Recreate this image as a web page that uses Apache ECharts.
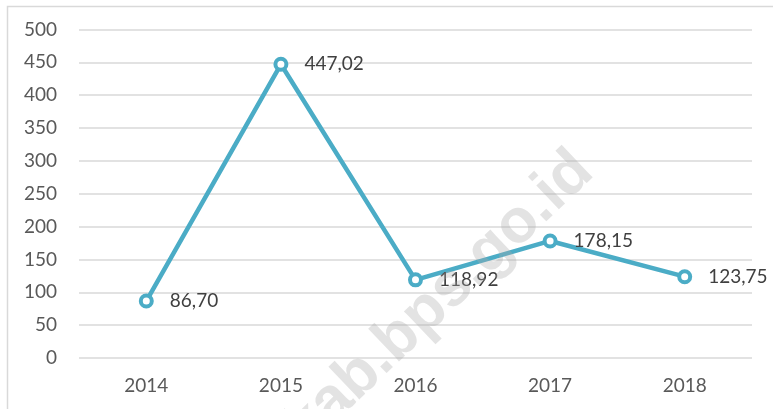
<!DOCTYPE html>
<html>
<head>
<meta charset="utf-8">
<script src="https://cdn.jsdelivr.net/npm/echarts@6/dist/echarts.min.js"></script>
<style>
  html, body { margin: 0; padding: 0; background: #fff; }
  #container { width: 773px; height: 409px; }
</style>
</head>
<body>
<div id="container"></div>
<script>
    var years = ['2014', '2015', '2016', '2017', '2018'];
    var values = [86.70, 447.02, 118.92, 178.15, 123.75];
    var yTicks = [0, 50, 100, 150, 200, 250, 300, 350, 400, 450, 500];

    var lineColor = '#4BACC6';
    var textColor = '#595959';
    var fontName = 'Lato';

    var myChart = echarts.init(document.getElementById('container'));

    var option = {
        backgroundColor: '#ffffff',
        animation: false,
        graphic: [
            {
                // frame of the chart area
                type: 'rect',
                left: 5,
                top: 4,
                shape: { width: 800, height: 420 },
                style: { fill: 'none', stroke: '#d9d9d9', lineWidth: 1.5 },
                z: 0
            },
            {
                // watermark
                type: 'text',
                x: 584,
                y: 162,
                rotation: 0.76,
                style: {
                    text: 'kab.bps.go.id',
                    font: 'bold 62px "Liberation Sans"',
                    fill: 'rgba(170,170,170,0.33)',
                    textAlign: 'right',
                    textVerticalAlign: 'middle'
                },
                z: 100
            }
        ],
        grid: {
            left: 79,
            right: 21,
            top: 29.5,
            bottom: 51
        },
        xAxis: {
            type: 'category',
            data: years,
            boundaryGap: true,
            axisLine: { show: false },
            axisTick: { show: false },
            axisLabel: {
                color: textColor,
                fontFamily: fontName,
                fontSize: 19,
                margin: 18
            }
        },
        yAxis: {
            type: 'value',
            min: yTicks[0],
            max: yTicks[yTicks.length - 1],
            interval: 50,
            axisLine: { show: false },
            axisTick: { show: false },
            axisLabel: {
                color: textColor,
                fontFamily: fontName,
                fontSize: 19,
                margin: 22
            },
            splitLine: {
                lineStyle: { color: '#d9d9d9', width: 1.5 }
            }
        },
        series: [
            {
                type: 'line',
                data: values,
                color: lineColor,
                symbol: 'circle',
                symbolSize: 11,
                lineStyle: { width: 4.5, color: lineColor },
                itemStyle: { color: '#ffffff', borderColor: lineColor, borderWidth: 4 },
                label: {
                    show: true,
                    position: 'right',
                    distance: 16,
                    color: '#404040',
                    fontFamily: fontName,
                    fontSize: 19,
                    formatter: function (p) {
                        return p.value.toFixed(2).replace('.', ',');
                    }
                }
            }
        ]
    };

    myChart.setOption(option);
</script>
</body>
</html>
